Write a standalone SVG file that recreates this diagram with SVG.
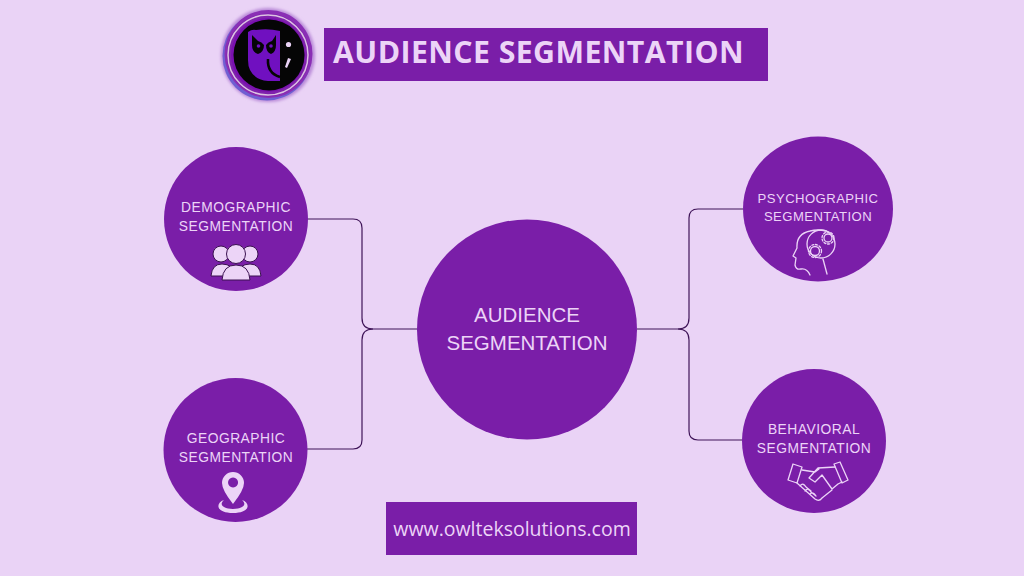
<svg xmlns="http://www.w3.org/2000/svg" width="1024" height="576" viewBox="0 0 1024 576">
<style>
.c{fill:#7a1ea8}
.t{font-family:"Liberation Sans",Arial,sans-serif;fill:#ecd4f7;text-anchor:middle}
.s{font-size:13.800px;letter-spacing:.5px}
.p{font-size:13.100px;letter-spacing:.45px}
.l{fill:none;stroke:#3f1458;stroke-width:1.2}
.i{fill:#ecd4f7;stroke:#3a1050;stroke-width:1}
.o{fill:none;stroke:#ecd4f7;stroke-width:1.300;stroke-linejoin:round;stroke-linecap:round}
</style>
<defs><filter id="b" x="-20%" y="-20%" width="140%" height="140%"><feGaussianBlur stdDeviation="1.800"/></filter></defs>
<rect width="1024" height="576" fill="#ead3f6"/>
<g id="connectors">
<path class="l" d="M307 219H353Q362 219 362 228V318Q362 329 373 329H417"/>
<path class="l" d="M307 449H353Q362 449 362 440V340Q362 329 373 329"/>
<path class="l" d="M637 329H678Q689 329 689 318V218Q689 209 698 209H743"/>
<path class="l" d="M678 329Q689 329 689 340V431Q689 440 698 440H743"/>
</g>
<g id="logo">
<circle cx="268" cy="55" r="47" fill="#b98ad8" filter="url(#b)"/>
<circle cx="267" cy="56" r="44.500" fill="#6f5fd2"/>
<circle cx="268.500" cy="54" r="44" fill="#8a2fb5"/>
<circle cx="268" cy="55" r="41.500" fill="#7f22ac"/>
<circle cx="268" cy="55" r="40" fill="none" stroke="#dcc2e2" stroke-width="1.500"/>
<circle cx="268" cy="55" r="37" fill="#7a10b0"/>
<circle cx="269" cy="55" r="35.500" fill="#050505"/>
<path d="M248 32Q252 29 256 30Q268 28 280 31V81H268Q255 80 250 70Q248 66 248 60Z" fill="#7010c0"/>
<path d="M252 35L258 41Q262 42 264 45Q264 52 258 54Q252 52 252 45Z" fill="#050505"/>
<path d="M276 35L272 41Q268 42 266 45Q266 52 271 54Q276 52 276 45Z" fill="#050505"/>
<circle cx="258.500" cy="46" r="1.800" fill="#7010c0"/><circle cx="271" cy="46" r="1.800" fill="#7010c0"/>
<path d="M268 59Q267 73 280 77" fill="none" stroke="#050505" stroke-width="2.500"/>
<circle cx="288.500" cy="44.500" r="2.600" fill="#ead3f6"/>
<path d="M288 58L291 59L287 68L285 67Z" fill="#ead3f6"/>
</g>
<g id="title">
<rect x="324" y="28" width="444" height="53" class="c"/>
<text x="538.500" y="63" class="t" style="font-family:'Open Sans',sans-serif;font-weight:700;font-size:30.300px;letter-spacing:.4px">AUDIENCE SEGMENTATION</text>
</g>
<g id="center">
<circle cx="527" cy="329.500" r="110" class="c"/>
<text x="527" y="322" class="t" font-size="20.500">AUDIENCE</text>
<text x="527" y="350" class="t" font-size="20.500">SEGMENTATION</text>
</g>
<g id="demographic">
<circle cx="236" cy="219" r="72" class="c"/>
<text x="236" y="212" class="t s">DEMOGRAPHIC</text>
<text x="236" y="231" class="t s">SEGMENTATION</text>
<circle cx="221" cy="254" r="8" class="i"/><circle cx="250" cy="254" r="8" class="i"/>
<path class="i" d="M211 276Q212 264 222 264Q233 264 237 276Z"/>
<path class="i" d="M261 276Q260 264 250 264Q239 264 235 276Z"/>
<circle cx="236" cy="254" r="9.500" class="i"/>
<path class="i" d="M222 280Q223 265 236 265Q249 265 250 280Z"/>
</g>
<g id="geographic">
<circle cx="235.500" cy="450" r="72" class="c"/>
<text x="236" y="443" class="t s">GEOGRAPHIC</text>
<text x="236" y="462" class="t s">SEGMENTATION</text>
<path fill="#ecd4f7" fill-rule="evenodd" d="M233 504Q222 490 222 483A11 11 0 0 1 244 483Q244 490 233 504ZM233 477.500A5 5 0 1 0 233.100 477.500Z"/>
<path fill="#ecd4f7" d="M224 500C215 503 216 513 233 513C250 513 251 503 242 500C247 504 244 509 233 509C222 509 219 504 224 500Z"/>
</g>
<g id="psychographic">
<ellipse cx="818" cy="209" rx="75" ry="72.500" class="c"/>
<text x="818" y="203" class="t p">PSYCHOGRAPHIC</text>
<text x="818" y="221" class="t p">SEGMENTATION</text>
<path class="o" d="M810 275Q807 268 801 269Q796 270 795 265L796 258L793 256L797 248Q796 234 810 231Q818 229 826 231"/>
<circle cx="821" cy="244" r="14" class="o"/>
<circle cx="828" cy="238" r="4" class="o"/><circle cx="828" cy="238" r="6" class="o" stroke-dasharray="2 1.800"/>
<circle cx="815" cy="251" r="4.500" class="o"/><circle cx="815" cy="251" r="6.500" class="o" stroke-dasharray="2 1.800"/>
<path class="o" d="M823 259L827 274"/>
</g>
<g id="behavioral">
<circle cx="814" cy="441" r="72" class="c"/>
<text x="814" y="434" class="t s">BEHAVIORAL</text>
<text x="814" y="453" class="t s">SEGMENTATION</text>
<path class="o" d="M788 480L793 464L802 467L797 483Z"/>
<path class="o" d="M848 480L840 462L834 464L842 483Z"/>
<path class="o" d="M802 470L815 472L819 469M835 467L818 468L809 478L815 482L822 475L832 489L838 484L842 482"/>
<path class="o" d="M797 483L815 499Q819 502 822 498L832 490M800 486Q803 482 806 487L811 491M805 491Q808 487 811 492L816 496M810 494Q813 491 816 496"/>
</g>
<g id="website">
<rect x="386" y="502" width="251" height="53" class="c"/>
<text x="512" y="536" class="t" style="font-family:'Open Sans',sans-serif;font-size:19.500px">www.owlteksolutions.com</text>
</g>
</svg>
